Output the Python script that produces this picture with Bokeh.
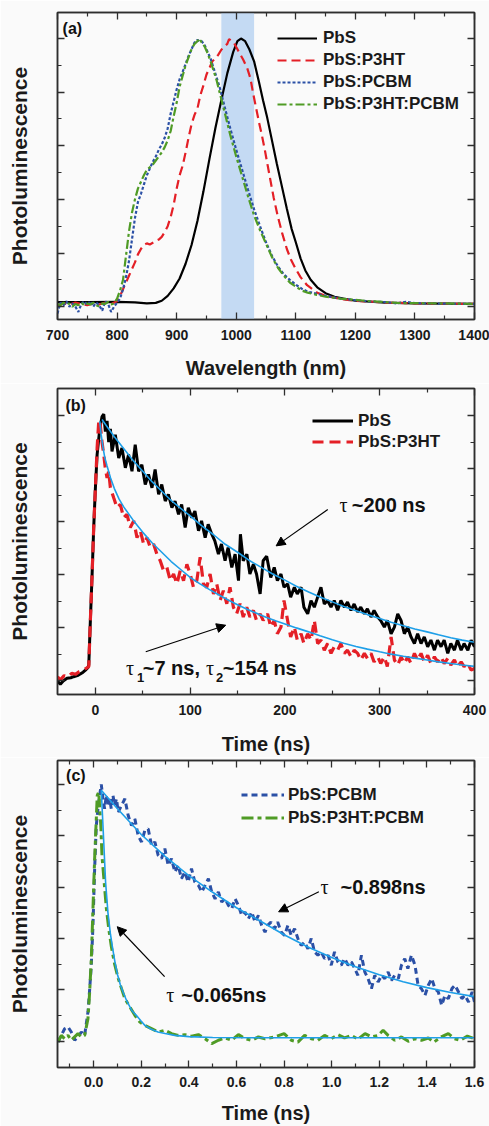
from bokeh.plotting import figure
from bokeh.models import (FixedTicker, LinearAxis, BoxAnnotation, Label, Arrow,
                          NormalHead, Legend, LegendItem, CustomJSTickFormatter)
from bokeh.layouts import column
from bokeh.embed import file_html
from bokeh.resources import INLINE

# ---------------- data: panel (a) steady-state PL ----------------
a_wl_pbs = [700, 750, 800, 830, 850, 865, 875, 885, 895, 905, 915, 925, 935, 945, 955, 965, 975, 985, 995,
            1002, 1008, 1015, 1022, 1030, 1038, 1045, 1052, 1060, 1068, 1076, 1085, 1093, 1100, 1108, 1116,
            1125, 1136, 1150, 1165, 1180, 1200, 1250, 1300, 1350, 1400]
a_pl_pbs = [0.017, 0.017, 0.018, 0.016, 0.012, 0.014, 0.022, 0.04, 0.068, 0.105, 0.16, 0.23, 0.32, 0.43, 0.55,
            0.665, 0.77, 0.87, 0.95, 0.99, 1.0, 0.99, 0.96, 0.915, 0.84, 0.77, 0.705, 0.62, 0.535, 0.455, 0.365,
            0.29, 0.24, 0.18, 0.135, 0.1, 0.072, 0.05, 0.037, 0.03, 0.022, 0.015, 0.012, 0.011, 0.01]

a_wl_p3ht = [700, 710, 720, 730, 740, 750, 760, 770, 780, 790, 800, 805, 810, 815, 820, 825, 830, 835, 840,
             845, 850, 855, 860, 865, 870, 875, 880, 885, 890, 895, 900, 905, 910, 915, 920, 925, 930, 935,
             940, 945, 950, 955, 960, 965, 970, 975, 980, 985, 988, 992, 996, 1000, 1005, 1012, 1019, 1024,
             1028, 1033, 1038, 1043, 1048, 1055, 1063, 1070, 1077, 1085, 1092, 1100, 1108, 1119, 1136, 1150,
             1165, 1180, 1200, 1250, 1300, 1350, 1400]
a_pl_p3ht = [0.005, 0.012, 0.008, 0.015, 0.01, 0.005, 0.012, 0.008, 0.015, 0.01, 0.02, 0.04, 0.065, 0.09,
             0.115, 0.14, 0.165, 0.195, 0.215, 0.23, 0.236, 0.232, 0.238, 0.245, 0.25, 0.26, 0.278, 0.3, 0.335,
             0.38, 0.44, 0.49, 0.525, 0.575, 0.63, 0.68, 0.715, 0.74, 0.79, 0.825, 0.865, 0.89, 0.915, 0.925,
             0.94, 0.958, 0.97, 0.98, 0.998, 0.99, 0.985, 0.968, 0.948, 0.92, 0.886, 0.85, 0.8, 0.745, 0.69,
             0.64, 0.585, 0.5, 0.405, 0.335, 0.275, 0.215, 0.175, 0.14, 0.11, 0.08, 0.052, 0.04, 0.033, 0.027,
             0.022, 0.015, 0.012, 0.011, 0.01]

a_wl_pcbm = [700, 705, 710, 715, 720, 725, 730, 735, 740, 745, 750, 755, 760, 765, 770, 775, 780, 785, 790,
             795, 800, 805, 810, 815, 820, 825, 830, 835, 840, 845, 850, 855, 860, 865, 870, 875, 880, 885,
             890, 895, 900, 905, 910, 915, 920, 925, 930, 935, 938, 942, 947, 952, 957, 962, 967, 972, 980,
             990, 1000, 1010, 1020, 1030, 1040, 1050, 1060, 1070, 1080, 1090, 1100, 1110, 1120, 1135, 1150,
             1175, 1200, 1225, 1250, 1270, 1285, 1300, 1350, 1400]
a_pl_pcbm = [-0.025, 0.015, 0.005, 0.02, 0.0, 0.012, 0.0, -0.02, 0.01, 0.02, 0.005, 0.02, 0.0, 0.015, 0.005,
             -0.015, 0.02, 0.01, -0.02, 0.0, 0.015,
             0.03, 0.065, 0.11, 0.17, 0.25, 0.33, 0.39, 0.42, 0.455, 0.49, 0.515, 0.54, 0.56, 0.585, 0.605,
             0.63, 0.665, 0.72, 0.765, 0.81, 0.848, 0.875, 0.905, 0.935, 0.96, 0.985, 0.995,
             0.99, 0.99, 0.975, 0.95, 0.925, 0.89, 0.855, 0.82, 0.75, 0.665, 0.585, 0.51, 0.435, 0.363, 0.3,
             0.24, 0.19, 0.15, 0.12, 0.1, 0.082, 0.067, 0.056, 0.048, 0.04, 0.03, 0.024, 0.019, 0.017, 0.012,
             0.018, 0.013, 0.011, 0.01]
a_pl_p3ht_pcbm = [0.01, 0.005, 0.015, 0.008, 0.012, 0.0, 0.01, 0.005, 0.015, 0.005, 0.012, 0.008, 0.015,
                  0.005, 0.0, 0.012, 0.01, 0.018, 0.008, 0.012, 0.03,
                  0.06, 0.1, 0.19, 0.28, 0.35, 0.4, 0.44, 0.465, 0.49, 0.51, 0.52, 0.53, 0.545, 0.56, 0.575,
                  0.595, 0.62, 0.655, 0.71, 0.76, 0.82, 0.86, 0.9, 0.93, 0.96, 0.98, 0.99,
                  1.0, 0.985, 0.97, 0.945, 0.915, 0.88, 0.845, 0.8, 0.73, 0.64, 0.56, 0.485, 0.41, 0.34, 0.285,
                  0.235, 0.185, 0.145, 0.115, 0.09, 0.075, 0.06, 0.052, 0.044, 0.037, 0.03, 0.025, 0.02, 0.017,
                  0.014, 0.013, 0.013, 0.012, 0.01]
a_band = [975, 1030]

# ---------------- data: panel (b) TRPL, ns ----------------
b_t_pbs = [-40, -37, -34, -30, -26, -23, -19, -16, -13, -10.5, -8, -7, -5.3, -3.5, -1.8, 0, 1.8, 4.6, 7, 8.8,
           10.5, 12.3, 14, 15.8, 17.5, 21, 24.6, 28, 31.6, 35, 38.6, 42, 45.6, 49, 52.6, 56, 59.7, 63, 66.7, 70,
           73.7, 77, 80.7, 84, 87.7, 91, 94.7, 98, 101.8, 105, 108.8, 112, 115.8, 119, 122.8, 126, 129.8, 133,
           136.8, 140, 143.9, 147.4, 151, 153, 156, 159.8, 163, 166.7, 170, 173.8, 177, 180.7, 185, 188.7, 192,
           195.8, 199, 202.8, 206, 209.9, 213, 217, 220, 224, 227.5, 231, 234.5, 238, 241.5, 245, 248.6, 252,
           255.6, 259, 262.7, 266, 269.7, 273, 276.7, 280, 283.8, 287, 290.8, 294, 297.9, 301, 304.9, 308, 312,
           315.5, 319, 322.5, 326, 329.5, 333, 336.6, 340, 343.6, 347, 350.6, 354, 357.7, 361, 364.7, 368,
           371.8, 375, 378.8, 382, 385.9, 389, 393, 396.4, 400]
b_pl_pbs = [0.0, -0.012, 0.0, 0.01, 0.012, 0.016, 0.02, 0.026, 0.033, 0.041,
            0.05, 0.06, 0.23, 0.4, 0.578, 0.728, 0.853, 0.95, 0.996, 1.005,
            0.94, 0.98, 0.9, 0.95, 0.865, 0.928, 0.84, 0.878, 0.803, 0.853,
            0.79, 0.89, 0.79, 0.815, 0.74, 0.778, 0.728, 0.797, 0.703, 0.74,
            0.678, 0.703, 0.653, 0.678, 0.628, 0.665, 0.578, 0.653, 0.615, 0.64,
            0.566, 0.603, 0.54, 0.59, 0.553, 0.528, 0.478, 0.516, 0.453, 0.503,
            0.428, 0.478, 0.378, 0.553, 0.453, 0.478, 0.403, 0.44, 0.403, 0.328,
            0.453, 0.47, 0.39, 0.428, 0.378, 0.403, 0.353, 0.366, 0.316, 0.353,
            0.328, 0.353, 0.278, 0.253, 0.303, 0.278, 0.316, 0.353, 0.29, 0.303,
            0.278, 0.303, 0.266, 0.303, 0.278, 0.297, 0.266, 0.29, 0.26, 0.278,
            0.253, 0.272, 0.241, 0.266, 0.241, 0.228, 0.203, 0.228, 0.178, 0.203,
            0.253, 0.228, 0.178, 0.203, 0.166, 0.141, 0.178, 0.141, 0.166, 0.129,
            0.154, 0.116, 0.154, 0.129, 0.154, 0.104, 0.141, 0.116, 0.154, 0.116,
            0.141, 0.116, 0.154, 0.129]
b_t_p3ht = [-40, -37, -33, -29, -25, -21, -17, -13, -10, -7, -5.3, -3.5, -1.8, 0, 1.8, 3.5, 4.6, 7, 8.8, 10.5,
            12.3, 14, 15.8, 19.3, 22.8, 26.3, 29.8, 33.3, 36.8, 40.4, 43.9, 47.4, 50.9, 54.4, 57.9, 61.4, 64.9,
            68.4, 71.9, 75.4, 79, 82.5, 86, 89.5, 93, 96.5, 100, 103.5, 107, 110.5, 114, 117.5, 121, 124.6, 128,
            131.6, 135, 138.6, 142, 145.6, 149, 152.6, 156, 159.7, 163, 166.7, 170, 173.8, 177, 181.7, 185,
            188.7, 192, 195.8, 199, 202.8, 206, 209.9, 213, 217, 220, 224, 227.5, 231, 234.5, 238, 241.5, 245,
            248.6, 252, 255.6, 259, 262.7, 266, 269.7, 273, 276.7, 280, 283.8, 287, 290.8, 294, 297.9, 301,
            304.9, 308, 312, 315.5, 319, 322.5, 326, 329.5, 333, 336.6, 340, 343.6, 347, 350.6, 354, 357.7, 361,
            364.7, 368, 371.8, 375, 378.8, 382, 385.9, 389, 393, 396.4, 400]
b_pl_p3ht = [0.016, 0.004, 0.02, 0.015, 0.029, 0.025, 0.035, 0.04, 0.047, 0.054,
             0.23, 0.4, 0.578, 0.728, 0.878, 0.978, 0.984, 0.9, 0.853, 0.8,
             0.765, 0.79, 0.728, 0.69, 0.653, 0.665, 0.615, 0.628, 0.578, 0.603,
             0.54, 0.566, 0.516, 0.54, 0.503, 0.516, 0.478, 0.453, 0.416, 0.428,
             0.378, 0.403, 0.366, 0.416, 0.378, 0.44, 0.403, 0.353, 0.378, 0.466,
             0.366, 0.353, 0.403, 0.328, 0.366, 0.303, 0.34, 0.291, 0.353, 0.278,
             0.253, 0.291, 0.241, 0.278, 0.241, 0.266, 0.228, 0.253, 0.228, 0.253,
             0.203, 0.228, 0.178, 0.203, 0.303, 0.228, 0.166, 0.203, 0.154, 0.178,
             0.141, 0.178, 0.154, 0.228, 0.141, 0.154, 0.116, 0.141, 0.104, 0.129,
             0.116, 0.141, 0.104, 0.116, 0.091, 0.116, 0.104, 0.079, 0.104, 0.085,
             0.104, 0.072, 0.091, 0.066, 0.091, 0.054, 0.166, 0.079, 0.06, 0.091,
             0.066, 0.091, 0.066, 0.104, 0.079, 0.104, 0.072, 0.097, 0.066, 0.091,
             0.072, 0.091, 0.066, 0.085, 0.06, 0.079, 0.054, 0.072, 0.054, 0.066,
             0.041, 0.047]
b_fit_t_pbs = [7, 12, 20, 30, 40, 50, 60, 70, 80, 90, 100, 112, 125, 137, 150, 162, 175, 187, 200, 212, 225,
               237, 250, 262, 275, 287, 300, 312, 325, 337, 350, 362, 375, 387, 400]
b_fit_pl_pbs = [0.985, 0.96, 0.92, 0.875, 0.83, 0.79, 0.75, 0.715, 0.68, 0.65, 0.622, 0.585, 0.55, 0.515,
                0.485, 0.455, 0.428, 0.403, 0.38, 0.357, 0.335, 0.316, 0.298, 0.281, 0.265, 0.25, 0.235,
                0.221, 0.208, 0.196, 0.185, 0.174, 0.163, 0.154, 0.146]
b_fit_t_p3ht = [4.6, 6, 8, 10, 12.3, 16, 20, 25, 30, 40, 50, 60, 70, 80, 90, 100, 110, 120, 130, 140, 150,
                160, 170, 180, 190, 200, 212, 225, 237, 250, 262, 275, 287, 300, 312, 325, 337, 350, 362, 375,
                387, 400]
b_fit_pl_p3ht = [0.978, 0.93, 0.88, 0.84, 0.81, 0.765, 0.725, 0.685, 0.655, 0.605, 0.56, 0.52, 0.485, 0.45,
                 0.42, 0.39, 0.367, 0.345, 0.325, 0.305, 0.287, 0.27, 0.255, 0.24, 0.227, 0.215, 0.2, 0.185,
                 0.17, 0.155, 0.142, 0.13, 0.12, 0.11, 0.101, 0.093, 0.086, 0.079, 0.072, 0.066, 0.06, 0.055]

# ---------------- data: panel (c) TRPL, ns ----------------
c_t_pcbm = [-0.15, -0.136, -0.122, -0.108, -0.094, -0.08, -0.066, -0.052, -0.038, -0.024,
            -0.017, -0.01, -0.003, 0.004, 0.011, 0.018, 0.025, 0.032, 0.039, 0.046,
            0.053, 0.06, 0.067, 0.074, 0.081, 0.088, 0.096, 0.103, 0.117, 0.131,
            0.145, 0.159, 0.173, 0.187, 0.201, 0.215, 0.229, 0.243, 0.257, 0.271,
            0.285, 0.299, 0.313, 0.327, 0.341, 0.355, 0.369, 0.383, 0.397, 0.411,
            0.425, 0.44, 0.454, 0.468, 0.482, 0.496, 0.51, 0.524, 0.538, 0.552,
            0.566, 0.58, 0.594, 0.608, 0.622, 0.636, 0.65, 0.664, 0.678, 0.692,
            0.706, 0.72, 0.731, 0.745, 0.76, 0.773, 0.788, 0.802, 0.816, 0.83,
            0.844, 0.858, 0.872, 0.886, 0.9, 0.914, 0.928, 0.942, 0.956, 0.97,
            0.985, 0.998, 1.012, 1.026, 1.04, 1.054, 1.069, 1.083, 1.097, 1.11,
            1.125, 1.139, 1.153, 1.167, 1.181, 1.195, 1.21, 1.223, 1.237, 1.251,
            1.265, 1.28, 1.293, 1.307, 1.32, 1.335, 1.35, 1.363, 1.377, 1.392,
            1.406, 1.42, 1.434, 1.448, 1.462, 1.476, 1.49, 1.505, 1.518, 1.533,
            1.547, 1.56, 1.575, 1.59, 1.6]
c_pl_pcbm = [-0.003, 0.023, 0.049, 0.056, 0.036, 0.004, 0.017, 0.036, 0.023, 0.114,
             0.2, 0.296, 0.45, 0.67, 0.84, 0.905, 0.957, 1.0, 0.944, 0.905,
             0.957, 0.918, 0.944, 0.905, 0.957, 0.918, 0.944, 0.892, 0.918, 0.944,
             0.879, 0.84, 0.866, 0.8, 0.776, 0.821, 0.827, 0.763, 0.776, 0.724,
             0.711, 0.75, 0.685, 0.711, 0.659, 0.685, 0.633, 0.659, 0.62, 0.672,
             0.62, 0.607, 0.581, 0.607, 0.633, 0.581, 0.555, 0.581, 0.542, 0.555,
             0.529, 0.516, 0.555, 0.529, 0.49, 0.503, 0.477, 0.503, 0.464, 0.49,
             0.451, 0.425, 0.451, 0.464, 0.438, 0.464, 0.425, 0.412, 0.451, 0.412,
             0.438, 0.4, 0.373, 0.386, 0.36, 0.4, 0.348, 0.335, 0.348, 0.322,
             0.335, 0.296, 0.348, 0.309, 0.296, 0.322, 0.296, 0.309, 0.283, 0.257,
             0.335, 0.27, 0.244, 0.205, 0.257, 0.231, 0.257, 0.244, 0.27, 0.237,
             0.257, 0.244, 0.296, 0.322, 0.283, 0.335, 0.296, 0.218, 0.205, 0.179,
             0.218, 0.244, 0.205, 0.192, 0.14, 0.179, 0.166, 0.205, 0.218, 0.192,
             0.166, 0.179, 0.153, 0.192, 0.153]
c_t_p3ht_pcbm = [-0.15, -0.136, -0.122, -0.108, -0.094, -0.08, -0.066, -0.052, -0.038, -0.024,
                 -0.017, -0.01, -0.003, 0.004, 0.011, 0.015, 0.021, 0.03, 0.035, 0.044,
                 0.053, 0.063, 0.074, 0.088, 0.103, 0.117, 0.131, 0.152, 0.173, 0.194,
                 0.215, 0.243, 0.271, 0.299, 0.327, 0.355, 0.383, 0.411, 0.44, 0.468,
                 0.496, 0.524, 0.552, 0.58, 0.608, 0.636, 0.664, 0.692, 0.72, 0.76,
                 0.8, 0.83, 0.858, 0.886, 0.914, 0.942, 0.97, 0.998, 1.026, 1.054,
                 1.083, 1.11, 1.14, 1.167, 1.195, 1.216, 1.237, 1.265, 1.293, 1.322,
                 1.35, 1.377, 1.406, 1.43, 1.46, 1.49, 1.516, 1.54, 1.57, 1.6]
c_pl_p3ht_pcbm = [-0.003, 0.023, 0.01, 0.023, 0.004, 0.017, 0.03, 0.017, 0.023, 0.088,
                  0.19, 0.32, 0.516, 0.71, 0.866, 0.957, 0.97, 0.84, 0.72, 0.62,
                  0.52, 0.44, 0.37, 0.3, 0.245, 0.205, 0.166, 0.134, 0.101, 0.075,
                  0.062, 0.049, 0.036, 0.043, 0.03, 0.023, 0.026, 0.02, 0.026, 0.01,
                  -0.009, 0.004, 0.013, 0.004, 0.026, 0.01, 0.004, 0.017, 0.01, 0.017,
                  0.03, 0.004, -0.003, 0.023, 0.01, 0.004, 0.023, 0.01, 0.026, 0.013,
                  0.023, 0.008, 0.03, 0.017, 0.023, 0.043, 0.023, 0.004, 0.017, 0.0,
                  0.01, 0.004, 0.013, -0.003, 0.017, 0.03, 0.01, 0.004, 0.02, 0.01]
c_fit_t_pcbm = [0.032, 0.1, 0.2, 0.3, 0.4, 0.5, 0.6, 0.7, 0.8, 0.9, 1.0, 1.1, 1.2, 1.3, 1.4, 1.5, 1.6]
c_fit_pl_pcbm = [0.977, 0.905, 0.805, 0.72, 0.645, 0.58, 0.52, 0.468, 0.415, 0.367, 0.326, 0.29, 0.259,
                 0.232, 0.209, 0.19, 0.174]
c_fit_t_p3ht_pcbm = [0.032, 0.04, 0.05, 0.06, 0.07, 0.08, 0.09, 0.1, 0.112, 0.124, 0.14, 0.16, 0.18, 0.2,
                     0.215, 0.24, 0.27, 0.3, 0.34, 0.4, 0.5, 0.7, 1.0, 1.6]
c_fit_pl_p3ht_pcbm = [0.977, 0.82, 0.62, 0.5, 0.42, 0.36, 0.305, 0.26, 0.22, 0.19, 0.155, 0.12, 0.1, 0.078,
                      0.062, 0.048, 0.036, 0.03, 0.023, 0.018, 0.015, 0.014, 0.014, 0.014]

a_xticks = [700, 800, 900, 1000, 1100, 1200, 1300, 1400]
a_xminor = [750, 850, 950, 1050, 1150, 1250, 1350]
b_xticks = [0, 100, 200, 300, 400]
b_xminor = [50, 150, 250, 350]
c_xticks = [0.0, 0.2, 0.4, 0.6, 0.8, 1.0, 1.2, 1.4, 1.6]
c_xminor = [-0.1, 0.1, 0.3, 0.5, 0.7, 0.9, 1.1, 1.3, 1.5]
y_ticks = [0.0, 0.2, 0.4, 0.6, 0.8, 1.0]
y_minor = [0.1, 0.3, 0.5, 0.7, 0.9]

FONT = "Liberation Sans"
SERIF = "Liberation Serif"
BG = "#fafafa"
AXC = "#2e2e2e"
RED = "#e41f26"
BLUE = "#2b50a6"
GREEN = "#4f9b25"
FIT = "#1e9fe8"


def make_fig(xr, yr, height, top, bottom, xt, xm, xlabel, tick_standoff, title_standoff, decimals=0):
    p = figure(width=489, height=height, x_range=xr, y_range=yr,
               output_backend="svg", toolbar_location=None,
               min_border_left=57, min_border_right=15,
               min_border_top=top, min_border_bottom=bottom,
               background_fill_color=BG, border_fill_color=BG)
    p.grid.visible = False
    p.outline_line_color = AXC
    p.outline_line_width = 1.5
    xtick = FixedTicker(ticks=xt, minor_ticks=xm)
    ytick = FixedTicker(ticks=y_ticks, minor_ticks=y_minor)
    p.add_layout(LinearAxis(ticker=xtick, formatter=CustomJSTickFormatter(code="return ''")), "above")
    p.add_layout(LinearAxis(ticker=ytick, formatter=CustomJSTickFormatter(code="return ''")), "right")
    bottom_ax = p.below[0]
    left_ax = p.left[0]
    bottom_ax.ticker = xtick
    bottom_ax.formatter = CustomJSTickFormatter(code="return tick.toFixed(%d)" % decimals)
    left_ax.ticker = ytick
    left_ax.formatter = CustomJSTickFormatter(code="return ''")
    for ax in [bottom_ax, left_ax, p.above[0], p.right[0]]:
        ax.axis_line_color = AXC
        ax.axis_line_width = 1.5
        ax.major_tick_line_color = AXC
        ax.minor_tick_line_color = AXC
        ax.major_tick_line_width = 1.3
        ax.minor_tick_line_width = 1.2
        ax.major_tick_in = 7
        ax.major_tick_out = 0
        ax.minor_tick_in = 4
        ax.minor_tick_out = 0
    for ax in [left_ax, p.above[0], p.right[0]]:
        ax.major_label_text_font_size = "1px"
        ax.major_label_standoff = 0
    bottom_ax.major_label_text_font = FONT
    bottom_ax.major_label_text_font_size = "14px"
    bottom_ax.major_label_text_font_style = "bold"
    bottom_ax.major_label_text_color = "#1a1a1a"
    bottom_ax.major_label_standoff = tick_standoff
    bottom_ax.axis_label = xlabel
    bottom_ax.axis_label_text_font = FONT
    bottom_ax.axis_label_text_font_size = "20px"
    bottom_ax.axis_label_text_font_style = "bold"
    bottom_ax.axis_label_text_color = "#1a1a1a"
    bottom_ax.axis_label_standoff = title_standoff
    left_ax.axis_label = "Photoluminescence"
    left_ax.axis_label_text_font = FONT
    left_ax.axis_label_text_font_size = "21px"
    left_ax.axis_label_text_font_style = "bold"
    left_ax.axis_label_text_color = "#1a1a1a"
    left_ax.axis_label_standoff = 27
    return p


def add_legend(p, items, loc, gw, gh, standoff):
    leg = Legend(items=[LegendItem(label=l, renderers=[r]) for l, r in items], location=loc)
    leg.label_text_font = FONT
    leg.label_text_font_size = "17px"
    leg.label_text_font_style = "bold"
    leg.label_text_color = "#1a1a1a"
    leg.border_line_alpha = 0
    leg.background_fill_alpha = 0
    leg.glyph_width = gw
    leg.glyph_height = gh
    leg.label_height = gh
    leg.label_standoff = standoff
    leg.spacing = 0
    leg.padding = 0
    leg.margin = 0
    p.add_layout(leg)


def add_text(p, x, y, text, size="20px", font=FONT, style="bold"):
    p.add_layout(Label(x=x, y=y, text=text, text_font=font, text_font_size=size,
                       text_font_style=style, text_color="#111111",
                       text_baseline="middle", text_align="left"))


def add_arrow(p, x0, y0, x1, y1):
    p.add_layout(Arrow(end=NormalHead(size=9, fill_color="black", line_color="black", line_width=1),
                       x_start=x0, y_start=y0, x_end=x1, y_end=y1,
                       line_color="black", line_width=1.2))


# ---------------- panel (a) ----------------
pa = make_fig((700, 1400), (-0.048, 1.097), 383, 12, 64, a_xticks, a_xminor, "Wavelength (nm)", 10, 14)
pa.add_layout(BoxAnnotation(left=a_band[0], right=a_band[1], fill_color="#c4daf3", fill_alpha=1.0,
                            line_alpha=0, level="underlay"))
ra1 = pa.line(a_wl_pbs, a_pl_pbs, line_color="black", line_width=2.2)
ra2 = pa.line(a_wl_p3ht, a_pl_p3ht, line_color=RED, line_width=2.2, line_dash="9 5")
ra3 = pa.line(a_wl_pcbm, a_pl_pcbm, line_color=BLUE, line_width=2.2, line_dash="3 2")
ra4 = pa.line(a_wl_pcbm, a_pl_p3ht_pcbm, line_color=GREEN, line_width=2.2, line_dash="9 3 3 3")
add_legend(pa, [("PbS", ra1), ("PbS:P3HT", ra2), ("PbS:PCBM", ra3), ("PbS:P3HT:PCBM", ra4)],
           (220, 204), 40, 22, 6)
add_text(pa, 708.5, 1.038, "(a)", size="16px")

# ---------------- panel (b) ----------------
pb = make_fig((-40, 400), (-0.051, 1.102), 374, 5, 61, b_xticks, b_xminor, "Time (ns)", 10, 15)
rb1 = pb.line(b_t_pbs, b_pl_pbs, line_color="black", line_width=3)
rb2 = pb.line(b_t_p3ht, b_pl_p3ht, line_color=RED, line_width=3.2, line_dash="11 6")
pb.line(b_fit_t_pbs, b_fit_pl_pbs, line_color=FIT, line_width=1.6)
pb.line(b_fit_t_p3ht, b_fit_pl_p3ht, line_color=FIT, line_width=1.6)
add_legend(pb, [("PbS", rb1), ("PbS:P3HT", rb2)], (255, 242), 41, 21, 5)
add_text(pb, -31.6, 1.039, "(b)", size="16px")
add_arrow(pb, 245.2, 0.646, 190.7, 0.509)
add_arrow(pb, 53.1, 0.110, 137.5, 0.210)
add_text(pb, 257.5, 0.664, "τ", font=SERIF, style="normal")
add_text(pb, 270.5, 0.664, "~200 ns")
add_text(pb, 32.4, 0.049, "τ", font=SERIF, style="normal")
add_text(pb, 44.0, 0.012, "1", size="13px")
add_text(pb, 49.9, 0.049, "~7 ns,")
add_text(pb, 116.8, 0.049, "τ", font=SERIF, style="normal")
add_text(pb, 127.2, 0.012, "2", size="13px")
add_text(pb, 134.4, 0.049, "~154 ns")

# ---------------- panel (c) ----------------
pc = make_fig((-0.152, 1.6), (-0.102, 1.093), 369, 3, 58, c_xticks, c_xminor, "Time (ns)", 9, 12, decimals=1)
rc1 = pc.line(c_t_pcbm, c_pl_pcbm, line_color=BLUE, line_width=3, line_dash="6 4")
rc2 = pc.line(c_t_p3ht_pcbm, c_pl_p3ht_pcbm, line_color=GREEN, line_width=3, line_dash="12 4 4 4")
pc.line(c_fit_t_pcbm, c_fit_pl_pcbm, line_color=FIT, line_width=1.6)
pc.line(c_fit_t_p3ht_pcbm, c_fit_pl_p3ht_pcbm, line_color=FIT, line_width=1.6)
add_legend(pc, [("PbS:PCBM", rc1), ("PbS:P3HT:PCBM", rc2)], (184, 238), 43, 23, 4)
add_text(pc, -0.116, 1.035, "(c)", size="16px")
add_arrow(pc, 0.946, 0.582, 0.777, 0.504)
add_arrow(pc, 0.298, 0.252, 0.099, 0.446)
add_text(pc, 0.953, 0.601, "τ", font=SERIF, style="normal")
add_text(pc, 1.037, 0.601, "~0.898ns")
add_text(pc, 0.305, 0.181, "τ", font=SERIF, style="normal")
add_text(pc, 0.368, 0.181, "~0.065ns")

layout = column(pa, pb, pc, spacing=0)
open("out.html", "w").write(file_html(layout, INLINE))
